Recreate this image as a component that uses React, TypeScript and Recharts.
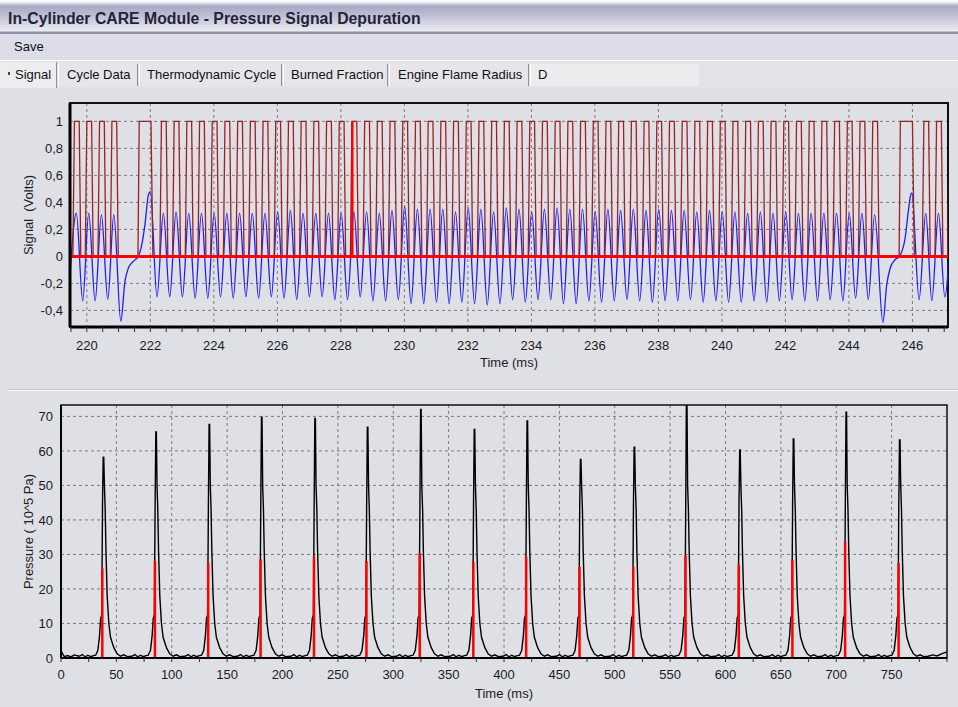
import React from 'react';
import { LineChart, Line, XAxis, YAxis, CartesianGrid, ReferenceArea, Label } from 'recharts';

// ---------- Signal panel: crank wheel pick-up (ms, Volts) ----------
// crest of every tooth on the blue analog trace
const CREST_T = [
  219.67, 220.06, 220.46, 220.85, 222.0,
  222.41, 222.81, 223.21, 223.61, 224.01, 224.41, 224.81, 225.21, 225.61, 226.01,
  226.41, 226.81, 227.21, 227.61, 228.01, 228.41, 228.81, 229.21, 229.61, 230.01,
  230.41, 230.81, 231.21, 231.61, 232.01, 232.41, 232.81, 233.21, 233.61, 234.01,
  234.41, 234.81, 235.21, 235.61, 236.01, 236.41, 236.81, 237.21, 237.61, 238.01,
  238.41, 238.81, 239.21, 239.61, 240.01, 240.41, 240.81, 241.21, 241.61, 242.01,
  242.41, 242.81, 243.21, 243.61, 244.01, 244.41, 244.81,
  245.98, 246.42, 246.82, 247.22,
];
const CREST_V = [
  0.32, 0.32, 0.31, 0.31, 0.48,
  0.32, 0.33, 0.32, 0.32, 0.32, 0.32, 0.32, 0.32, 0.32, 0.33,
  0.34, 0.32, 0.32, 0.32, 0.32, 0.33, 0.33, 0.32, 0.34, 0.37,
  0.35, 0.35, 0.35, 0.33, 0.36, 0.35, 0.33, 0.36, 0.35, 0.33,
  0.35, 0.36, 0.35, 0.35, 0.33, 0.35, 0.34, 0.35, 0.34, 0.35,
  0.34, 0.34, 0.33, 0.34, 0.33, 0.33, 0.32, 0.33, 0.32, 0.33,
  0.32, 0.32, 0.32, 0.32, 0.32, 0.32, 0.31,
  0.47, 0.32, 0.32, 0.32,
];
const TROUGH_T = [
  219.87, 220.26, 220.66, 221.07,
  222.21, 222.61, 223.01, 223.41, 223.81, 224.21, 224.61, 225.01, 225.41, 225.81,
  226.21, 226.61, 227.01, 227.41, 227.81, 228.21, 228.61, 229.01, 229.41, 229.81,
  230.21, 230.61, 231.01, 231.41, 231.81, 232.21, 232.61, 233.01, 233.41, 233.81,
  234.21, 234.61, 235.01, 235.41, 235.81, 236.21, 236.61, 237.01, 237.41, 237.81,
  238.21, 238.61, 239.01, 239.41, 239.81, 240.21, 240.61, 241.01, 241.41, 241.81,
  242.21, 242.61, 243.01, 243.41, 243.81, 244.21, 244.61,
  245.07, 246.21, 246.61, 247.02,
];
const TROUGH_V = [
  -0.33, -0.33, -0.32, -0.48,
  -0.30, -0.30, -0.30, -0.31, -0.31, -0.30, -0.31, -0.30, -0.31, -0.30,
  -0.31, -0.32, -0.30, -0.30, -0.32, -0.32, -0.30, -0.33, -0.33, -0.32,
  -0.35, -0.35, -0.34, -0.35, -0.34, -0.35, -0.36, -0.35, -0.32, -0.34,
  -0.32, -0.32, -0.35, -0.35, -0.33, -0.34, -0.33, -0.32, -0.33, -0.34,
  -0.33, -0.33, -0.32, -0.34, -0.33, -0.34, -0.34, -0.33, -0.34, -0.33,
  -0.32, -0.33, -0.33, -0.32, -0.33, -0.31, -0.32,
  -0.49, -0.32, -0.33, -0.30,
];
// left edge and the slow recovery after each missing-tooth gap
const RAMP_T = [219.45, 221.2, 221.31, 221.46, 221.62, 221.73, 221.83, 221.94, 245.19, 245.3, 245.45, 245.59, 245.77, 245.87, 245.94];
const RAMP_V = [-0.22, -0.185, -0.086, -0.037, 0, 0.087, 0.235, 0.457, -0.21, -0.086, -0.025, 0, 0.136, 0.333, 0.45];

// dark red square wave: one pulse per tooth, wide pulse at the gaps
const GAP_CRESTS = [222.0, 245.98];
const PULSE_DT = [-0.11, -0.06, 0.09, 0.14];
const PULSE_LEVEL = [0, 1, 1, 0];
const WIDE_PULSE_T = [221.61, 221.65, 222.02, 222.08, 245.58, 245.62, 246.0, 246.06];
const WIDE_PULSE_LEVEL = [0, 1, 1, 0, 0, 1, 1, 0];
const MARKER_T = 228.36;

const SIG_X_DOMAIN = [219.47, 247.12];
const SIG_Y_DOMAIN = [-0.523, 1.136];
const SIG_X_LABELS = [220, 222, 224, 226, 228, 230, 232, 234, 236, 238, 240, 242, 244, 246];
const SIG_X_TICKS = Array.from({ length: 56 }, (_, i) => 219.5 + i * 0.5);
const SIG_Y_TICKS = [-0.4, -0.2, 0, 0.2, 0.4, 0.6, 0.8, 1];

// ---------- Pressure panel (ms, 10^5 Pa) ----------
const CYCLE_T = [37.3, 84.8, 132.9, 180.2, 228.4, 275.8, 323.9, 372.3, 420.0, 468.2, 516.7, 563.9, 612.0, 660.4, 708.0, 756.3];
const CYCLE_MARK = [25.9, 28.1, 27.5, 28.6, 29.3, 28.1, 30.4, 27.8, 29.3, 26.4, 26.4, 29.7, 27.1, 28.5, 33.6, 27.5];
const CYCLE_PEAK = [58.2, 65.5, 67.7, 69.8, 69.4, 66.9, 72.0, 66.2, 68.7, 57.5, 61.1, 76, 60.3, 63.5, 71.2, 63.2];
// typical trace around a marker (null = that cycle's peak)
const SHAPE_DT = [-21, -18, -15.5, -13, -10.5, -8, -6, -4, -2.5, -1.5, -0.5, 0.2, 0.8, 1.3, 1.9, 2.6, 3.3, 4.4, 5.9, 7.4, 10.4, 13.4, 16.4, 19.5, 22.5];
const SHAPE_P = [0.5, 1.0, 0.3, 0.8, 0.4, 0.7, 0.8, 2.2, 6.5, 11.5, 12.5, 45, null, null, 50, 43, 31, 18, 10, 6, 3, 1.2, 0.5, 0.9, 0.4];
const LEAD_T = [0, 1.5, 3, 6, 9, 12];
const LEAD_P = [2.2, 1.2, 0.4, 0.7, 0.3, 0.9];
const TAIL_T = [783, 787, 791, 795, 800];
const TAIL_P = [0.5, 0.9, 0.6, 1.2, 1.8];

const P_X_LABELS = [0, 50, 100, 150, 200, 250, 300, 350, 400, 450, 500, 550, 600, 650, 700, 750];
const P_X_TICKS = Array.from({ length: 33 }, (_, i) => i * 25);
const P_Y_TICKS = [0, 10, 20, 30, 40, 50, 60, 70];

// ---------- series tables ----------
const blueData = [
  ...CREST_T.map((t, i) => ({ t, v: CREST_V[i] })),
  ...TROUGH_T.map((t, i) => ({ t, v: TROUGH_V[i] })),
  ...RAMP_T.map((t, i) => ({ t, v: RAMP_V[i] })),
].sort((a, b) => a.t - b.t);

const squareData = [
  ...CREST_T.filter((c) => !GAP_CRESTS.includes(c)).flatMap((c) =>
    PULSE_DT.map((dt, j) => ({ t: c + dt, v: PULSE_LEVEL[j] }))
  ),
  ...WIDE_PULSE_T.map((t, i) => ({ t, v: WIDE_PULSE_LEVEL[i] })),
].sort((a, b) => a.t - b.t);

const zeroData = [{ t: SIG_X_DOMAIN[0], v: 0 }, { t: SIG_X_DOMAIN[1], v: 0 }];
const markerData = [{ t: MARKER_T, v: 0 }, { t: MARKER_T, v: 1 }];

const pressureData = [
  ...LEAD_T.map((t, i) => ({ t, p: LEAD_P[i] })),
  ...CYCLE_T.flatMap((r, i) =>
    SHAPE_DT.map((dt, j) => ({ t: r + dt, p: SHAPE_P[j] ?? CYCLE_PEAK[i] }))
  ),
  ...TAIL_T.map((t, i) => ({ t, p: TAIL_P[i] })),
];

const markData = CYCLE_T.flatMap((t, i) => [
  { t, p: 0 },
  { t, p: CYCLE_MARK[i] },
  { t: t + 0.01, p: null },
]);

const FONT = "'Liberation Sans', Arial, sans-serif";
const BG = '#dfdfe6';
const TICK = { fill: '#1c1c1c', fontSize: 13 };
const GRID = '#7c7c7c';

const fmtComma = (v: number) => String(v).replace('.', ',');

function SignalChart() {
  return (
    <LineChart width={958} height={290} margin={{ top: 13, right: 10, bottom: 13, left: 0 }}>
      <CartesianGrid stroke={GRID} strokeDasharray="3 3" verticalValues={SIG_X_LABELS} horizontalValues={SIG_Y_TICKS} />
      <XAxis
        type="number"
        dataKey="t"
        domain={SIG_X_DOMAIN}
        allowDataOverflow
        ticks={SIG_X_TICKS}
        interval={0}
        tickFormatter={(v: number) => (SIG_X_LABELS.includes(v) ? String(v) : '')}
        height={40}
        tick={TICK}
        tickSize={5}
        tickMargin={9}
        axisLine={{ stroke: '#000', strokeWidth: 3 }}
        tickLine={{ stroke: '#333' }}
      >
        <Label value="Time (ms)" position="insideBottom" offset={0} fill="#1c1c1c" fontSize={13} />
      </XAxis>
      <YAxis
        type="number"
        domain={SIG_Y_DOMAIN}
        allowDataOverflow
        ticks={SIG_Y_TICKS}
        interval={0}
        width={70}
        tick={TICK}
        tickLine={false}
        tickSize={4}
        tickMargin={3}
        tickFormatter={fmtComma}
        axisLine={{ stroke: '#000', strokeWidth: 3 }}
      >
        <Label value={'Signal\u00a0 (Volts)'} angle={-90} position="insideLeft" offset={28} fill="#1c1c1c" fontSize={13} style={{ textAnchor: 'middle' }} />
      </YAxis>
      <ReferenceArea x1={SIG_X_DOMAIN[0]} x2={SIG_X_DOMAIN[1]} y1={SIG_Y_DOMAIN[0]} y2={SIG_Y_DOMAIN[1]} fill="none" stroke="#111" strokeWidth={2} ifOverflow="visible" />
      <Line data={blueData} dataKey="v" type="monotone" stroke="#1c1cff" strokeWidth={1.3} dot={false} activeDot={false} isAnimationActive={false} />
      <Line data={squareData} dataKey="v" type="linear" stroke="#9c2222" strokeWidth={1.3} dot={false} activeDot={false} isAnimationActive={false} />
      <Line data={zeroData} dataKey="v" stroke="#ff0000" strokeWidth={3} dot={false} activeDot={false} isAnimationActive={false} />
      <Line data={markerData} dataKey="v" stroke="#ff0000" strokeWidth={2.5} dot={false} activeDot={false} isAnimationActive={false} />
    </LineChart>
  );
}

function PressureChart() {
  return (
    <LineChart width={958} height={317} margin={{ top: 15, right: 11, bottom: 9, left: 0 }}>
      <CartesianGrid stroke={GRID} strokeDasharray="3 3" verticalValues={P_X_LABELS} horizontalValues={P_Y_TICKS} />
      <XAxis
        type="number"
        dataKey="t"
        domain={[0, 800]}
        allowDataOverflow
        ticks={P_X_TICKS}
        interval={0}
        tickFormatter={(v: number) => (P_X_LABELS.includes(v) ? String(v) : '')}
        height={40}
        tick={TICK}
        tickSize={4}
        tickMargin={8}
        axisLine={{ stroke: '#000', strokeWidth: 2 }}
        tickLine={{ stroke: '#333' }}
      >
        <Label value="Time (ms)" position="insideBottom" offset={0} fill="#1c1c1c" fontSize={13} />
      </XAxis>
      <YAxis
        type="number"
        domain={[0, 73.3]}
        allowDataOverflow
        ticks={P_Y_TICKS}
        interval={0}
        width={61}
        tick={TICK}
        tickLine={false}
        tickSize={4}
        tickMargin={4}
        axisLine={{ stroke: '#000', strokeWidth: 2 }}
      >
        <Label value="Pressure ( 10^5 Pa)" angle={-90} position="insideLeft" offset={28} fill="#1c1c1c" fontSize={13} style={{ textAnchor: 'middle' }} />
      </YAxis>
      <ReferenceArea x1={0} x2={800} y1={0} y2={73.3} fill="none" stroke="#111" strokeWidth={1.5} ifOverflow="visible" />
      <Line data={pressureData} dataKey="p" type="linear" stroke="#000" strokeWidth={1.4} dot={false} activeDot={false} isAnimationActive={false} />
      <Line data={markData} dataKey="p" type="linear" stroke="#ff0000" strokeWidth={2.5} dot={false} activeDot={false} connectNulls={false} isAnimationActive={false} />
    </LineChart>
  );
}

const TABS = [
  { label: 'Signal', left: 0, width: 57, textLeft: 15, selected: true },
  { label: 'Cycle Data', left: 58, width: 80, textLeft: 8 },
  { label: 'Thermodynamic Cycle', left: 139, width: 143, textLeft: 7 },
  { label: 'Burned Fraction', left: 283, width: 105, textLeft: 7 },
  { label: 'Engine Flame Radius', left: 389, width: 140, textLeft: 8 },
];

export default function App() {
  return (
    <div style={{ position: 'fixed', left: 0, top: 0, width: 958, height: 707, background: BG, overflow: 'hidden', fontFamily: FONT }}>
      {/* title bar */}
      <div
        style={{
          position: 'absolute', left: 0, top: 0, width: 958, height: 34,
          background: 'linear-gradient(to bottom, #ffffff 0px, #f2f2f6 2px, #a8a8c4 6px, #b8b8cf 13px, #dadae6 25px, #ececf2 31px, #8e8ea9 32px, #8e8ea9 34px)',
        }}
      />
      <div style={{ position: 'absolute', left: 8, top: 10, fontSize: 15.8, fontWeight: 'bold', color: '#23233a', lineHeight: '18px', whiteSpace: 'nowrap' }}>
        In-Cylinder CARE Module - Pressure Signal Depuration
      </div>
      {/* menu bar */}
      <div style={{ position: 'absolute', left: 0, top: 34, width: 958, height: 26, background: '#dcdde9' }} />
      <div style={{ position: 'absolute', left: 14, top: 39, fontSize: 13, lineHeight: '16px', color: '#111' }}>Save</div>
      <div style={{ position: 'absolute', left: 0, top: 60, width: 958, height: 1, background: '#ffffff' }} />
      {/* tab strip */}
      <div style={{ position: 'absolute', left: 0, top: 61, width: 958, height: 28, background: '#e3e3e7' }} />
      {TABS.map((tb) => (
        <div
          key={tb.label}
          style={{
            position: 'absolute', left: tb.left, top: tb.selected ? 62 : 64, width: tb.width, height: tb.selected ? 26 : 22,
            background: tb.selected ? '#ededf0' : '#e6e6ea',
            borderRight: '1px solid #8f8f96', borderLeft: tb.selected ? 'none' : '1px solid #ffffff',
            boxSizing: 'border-box',
          }}
        >
          <div style={{ position: 'absolute', left: tb.textLeft, top: tb.selected ? 4 : 2, fontSize: 13, lineHeight: '18px', color: '#111', whiteSpace: 'nowrap' }}>
            {tb.label}
          </div>
        </div>
      ))}
      <div style={{ position: 'absolute', left: 8, top: 72, width: 2, height: 3, background: '#444' }} />
      <div style={{ position: 'absolute', left: 530, top: 64, width: 168, height: 22, background: '#ececee', borderLeft: '1px solid #ffffff' }}>
        <div style={{ position: 'absolute', left: 7, top: 2, fontSize: 13, lineHeight: '18px', color: '#111' }}>D</div>
      </div>
      {/* signal chart */}
      <div style={{ position: 'absolute', left: 0, top: 90 }}>
        <SignalChart />
      </div>
      {/* panel separator */}
      <div style={{ position: 'absolute', left: 8, top: 389, width: 950, height: 1, background: '#c6c6cf' }} />
      <div style={{ position: 'absolute', left: 8, top: 390, width: 950, height: 1, background: '#fbfbfd' }} />
      {/* pressure chart */}
      <div style={{ position: 'absolute', left: 0, top: 390 }}>
        <PressureChart />
      </div>
    </div>
  );
}
